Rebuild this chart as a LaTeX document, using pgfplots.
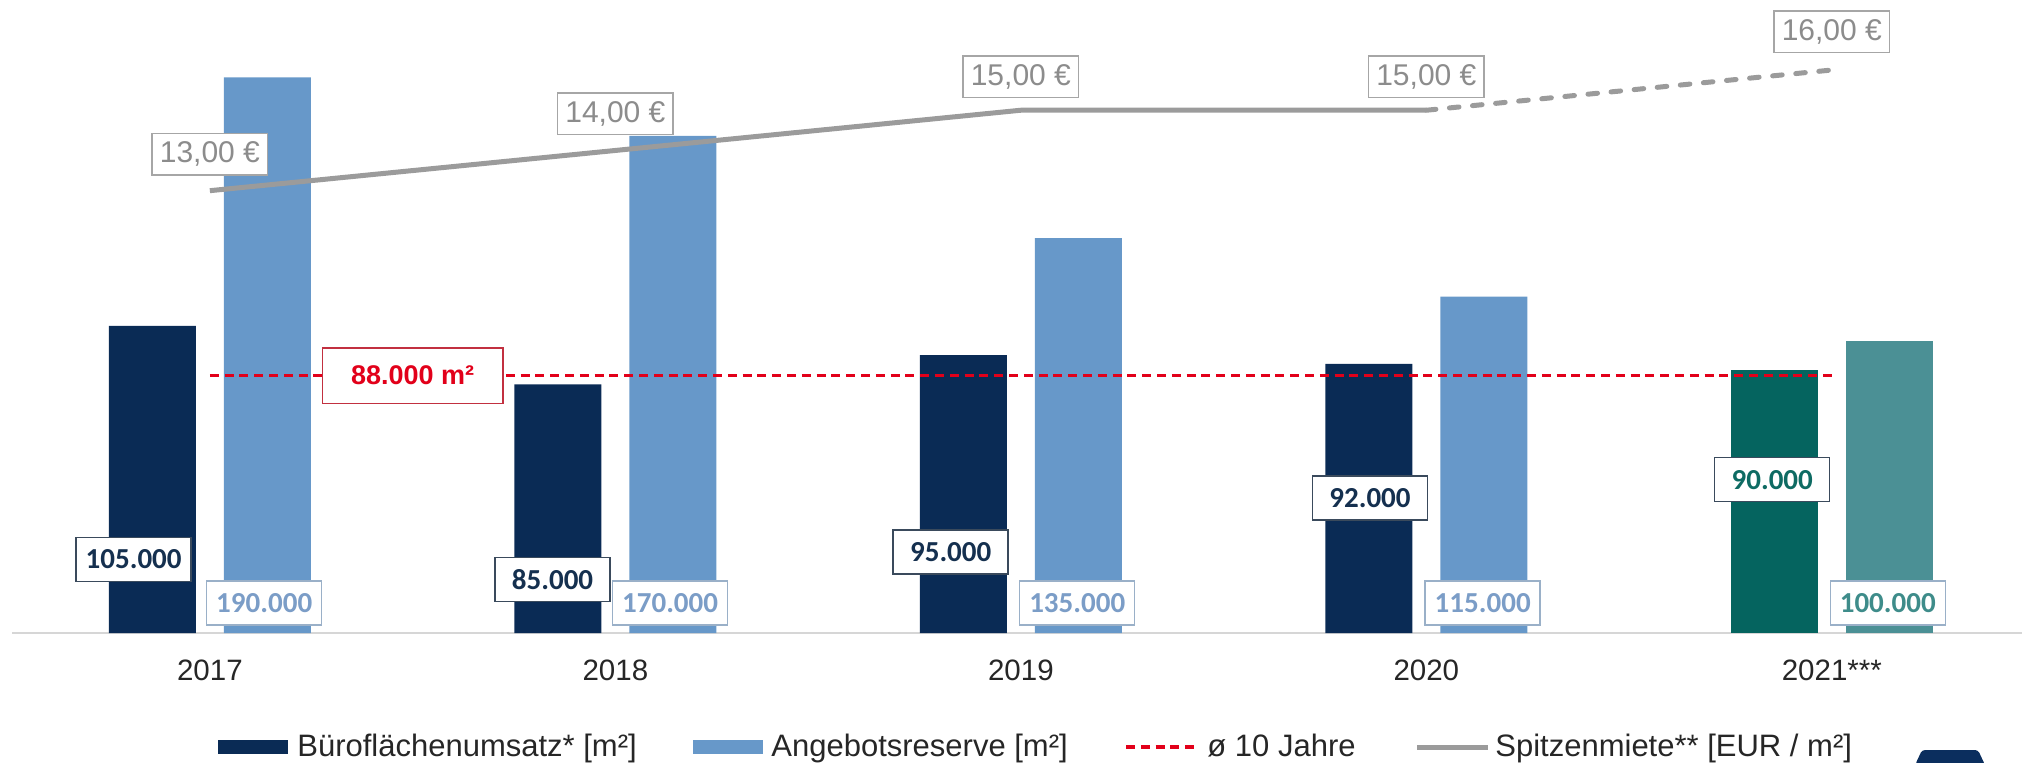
\documentclass[border=0pt]{standalone}
\usepackage{fontspec}
\setmainfont{Liberation Sans}
\newfontfamily\calibri{Carlito}
\usepackage{pgfplots}
\pgfplotsset{compat=1.18}
\definecolor{navy}{HTML}{0A2B55}
\definecolor{lblue}{HTML}{6798C9}
\definecolor{tealdark}{HTML}{05645F}
\definecolor{teallight}{HTML}{4B9095}
\definecolor{rentgray}{HTML}{9B9B9B}
\definecolor{avgred}{HTML}{E2001A}
\definecolor{basegray}{HTML}{D6D6D6}
\definecolor{ticktext}{HTML}{262626}
\definecolor{navytext}{HTML}{15304F}
\definecolor{darkborder}{HTML}{3A4A5C}
\definecolor{lbluetext}{HTML}{7B9DC7}
\definecolor{lblueborder}{HTML}{9AB0C8}
\definecolor{tealtext}{HTML}{0E6B63}
\definecolor{teallighttext}{HTML}{3E8C8A}
\definecolor{renttext}{HTML}{8C8C8C}
\definecolor{rentborder}{HTML}{A6A6A6}
\definecolor{redborder}{HTML}{C23040}
\definecolor{logonavy}{HTML}{0B2E5E}

\tikzset{
  databox/.style={fill=white, line width=0.75pt, minimum width=57.5pt, minimum height=22pt, inner sep=0pt,
     font={\calibri\bfseries\fontsize{14.5}{16}\selectfont}},
  darkbox/.style={databox, draw=darkborder, text=navytext},
  lightbox/.style={databox, draw=lblueborder, text=lbluetext},
  rentbox/.style={fill=white, draw=rentborder, line width=0.75pt, minimum width=57.8pt, minimum height=20.8pt,
     inner sep=0pt, text=renttext, font={\fontsize{15}{17}\selectfont}},
  legtext/.style={anchor=base west, inner sep=0pt, text=ticktext, font={\fontsize{15.5}{18}\selectfont}},
}

\begin{document}
\begin{tikzpicture}
\useasboundingbox (-6pt,-64.5pt) rectangle (1009pt,316.5pt);
\pgfplotsset{
  base/.style={scale only axis, width=1005pt, height=316.5pt, xmin=-0.488, xmax=4.469, clip=false},
}
\begin{axis}[base, ymin=0, ymax=216410,
  axis x line=bottom, axis y line=none,
  x axis line style={-, draw=basegray, line width=1pt},
  xtick={0,1,2,3,4}, xticklabels={2017,2018,2019,2020,2021***},
  xtick style={draw=none}, major tick length=0pt,
  xticklabel style={anchor=base, yshift=-23.5pt, text=ticktext, font={\fontsize{14.75}{17}\selectfont}},
  ytick=\empty]
\addplot[ybar, bar width=43.5pt, bar shift=-28.75pt, fill=navy, draw=none] coordinates {(0,105000) (1,85000) (2,95000) (3,92000)};
\addplot[ybar, bar width=43.5pt, bar shift=-28.75pt, fill=tealdark, draw=none] coordinates {(4,90000)};
\addplot[ybar, bar width=43.5pt, bar shift=28.75pt, fill=lblue, draw=none] coordinates {(0,190000) (1,170000) (2,135000) (3,115000)};
\addplot[ybar, bar width=43.5pt, bar shift=28.75pt, fill=teallight, draw=none] coordinates {(4,100000)};
\addplot[avgred, line width=1.6pt, dash pattern=on 4.5pt off 2.9pt] coordinates {(0,88000) (4,88000)};

\node[fill=white, draw=redborder, line width=0.75pt, minimum width=90.3pt, minimum height=27.8pt, inner sep=0pt,
      text=avgred, font={\bfseries\fontsize{13.5}{15}\selectfont}] at (axis cs:0.5,88000) {88.000 m²};

\node[darkbox] at (axis cs:-0.188,25128) {105.000};
\node[darkbox] at (axis cs:0.845,18360) {85.000};
\node[darkbox] at (axis cs:1.827,27624) {95.000};
\node[darkbox] at (axis cs:2.861,46222) {92.000};
\node[databox, draw=darkborder, text=tealtext] at (axis cs:3.853,52444) {90.000};

\node[lightbox] at (axis cs:0.134,10256) {190.000};
\node[lightbox] at (axis cs:1.135,10256) {170.000};
\node[lightbox] at (axis cs:2.139,10256) {135.000};
\node[lightbox] at (axis cs:3.139,10256) {115.000};
\node[databox, draw=lblueborder, text=teallighttext] at (axis cs:4.138,10256) {100.000};
\end{axis}

\begin{axis}[base, ymin=2.006, ymax=17.74, hide axis]
\addplot[rentgray, line width=2.5pt] coordinates {(0,13) (1,14) (2,15) (3,15)};
\addplot[rentgray, line width=2.5pt, line cap=round, dash pattern=on 4.8pt off 6.8pt] coordinates {(3,15) (4,16)};
\node[rentbox] at (axis cs:0,13.91) {13,00 €};
\node[rentbox] at (axis cs:1,14.91) {14,00 €};
\node[rentbox] at (axis cs:2,15.83) {15,00 €};
\node[rentbox] at (axis cs:3,15.83) {15,00 €};
\node[rentbox] at (axis cs:4,16.95) {16,00 €};
\end{axis}

% legend
\fill[navy] (103pt,-60.4pt) rectangle (138pt,-53.6pt);
\node[legtext] at (142.5pt,-61.5pt) {Büroflächenumsatz* [m²]};
\fill[lblue] (340.5pt,-60.4pt) rectangle (375.5pt,-53.6pt);
\node[legtext] at (379.5pt,-61.5pt) {Angebotsreserve [m²]};
\draw[avgred, line width=1.6pt, dash pattern=on 4.5pt off 2.9pt] (557pt,-57pt) -- (593pt,-57pt);
\node[legtext] at (597.5pt,-61.5pt) {ø 10 Jahre};
\draw[rentgray, line width=2.5pt] (702.5pt,-57pt) -- (738pt,-57pt);
\node[legtext] at (741.5pt,-61.5pt) {Spitzenmiete** [EUR / m²]};

% logo fragment
\fill[logonavy, rounded corners=1.5pt] (951.5pt,-66pt) -- (955pt,-58.5pt) -- (983pt,-58.5pt) -- (986.5pt,-66pt) -- cycle;
\end{tikzpicture}
\end{document}
